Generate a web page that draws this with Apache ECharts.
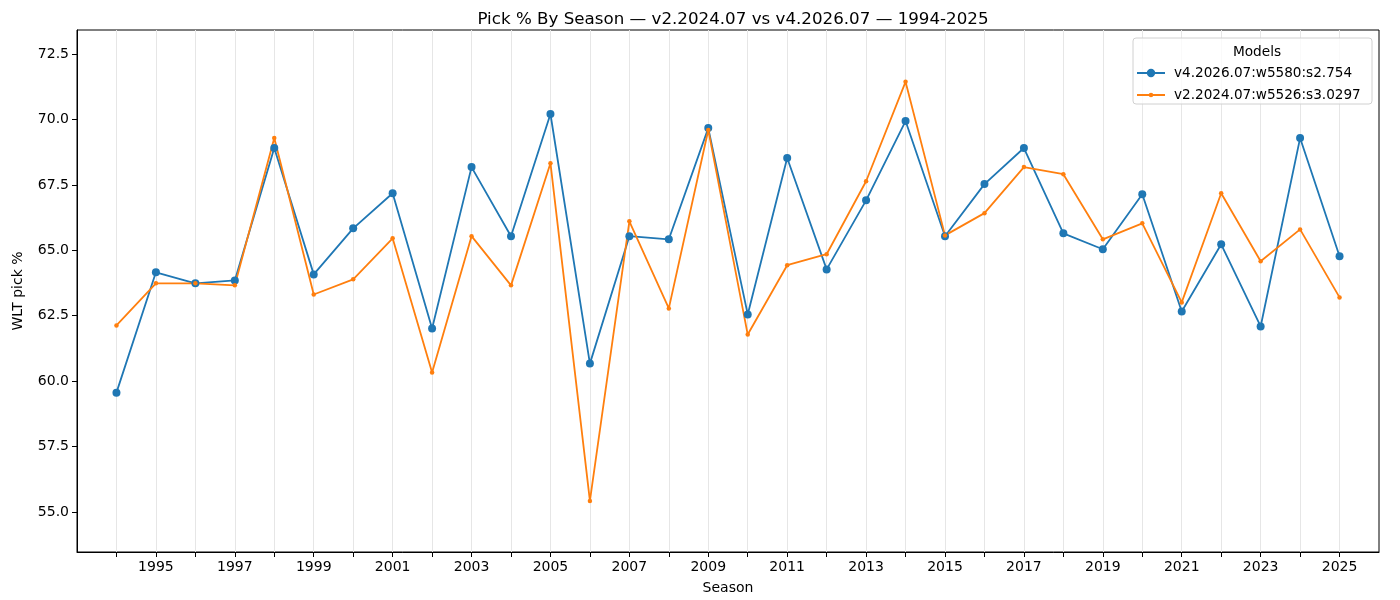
<!DOCTYPE html>
<html>
<head>
<meta charset="utf-8">
<script src="https://cdn.jsdelivr.net/npm/echarts@6/dist/echarts.min.js"></script>
<style>
html, body { margin: 0; padding: 0; background: #fff; }
#main { width: 1400px; height: 600px; }
</style>
</head>
<body>
<div id="main"></div>
<script>
var seasons = [1994, 1995, 1996, 1997, 1998, 1999, 2000, 2001, 2002, 2003, 2004,
    2005, 2006, 2007, 2008, 2009, 2010, 2011, 2012, 2013, 2014, 2015,
    2016, 2017, 2018, 2019, 2020, 2021, 2022, 2023, 2024, 2025];
var v4Values = [59.56, 64.16, 63.74, 63.85, 68.91, 64.08, 65.84, 67.18, 62.01, 68.18, 65.54,
    70.21, 60.67, 65.54, 65.42, 69.67, 62.55, 68.53, 64.27, 66.91, 69.94, 65.54,
    67.53, 68.91, 65.65, 65.04, 67.14, 62.66, 65.23, 62.09, 69.29, 64.77];
var v2Values = [62.13, 63.74, 63.74, 63.66, 69.29, 63.31, 63.89, 65.46, 60.33, 65.54, 63.66,
    68.33, 55.42, 66.11, 62.78, 69.60, 61.78, 64.43, 64.85, 67.64, 71.44, 65.57,
    66.42, 68.18, 67.91, 65.42, 66.03, 63.01, 67.18, 64.58, 65.80, 63.20];
var yTicks = [55, 57.5, 60, 62.5, 65, 67.5, 70, 72.5];
var xLabels = seasons.filter(function (s) { return s % 2 === 1; });

var v4Name = 'v4.2026.07:w5580:s2.754';
var v2Name = 'v2.2024.07:w5526:s3.0297';

function pairs(vals) {
    return seasons.map(function (s, i) { return [s, vals[i]]; });
}

// legend handle: line with a marker in the middle, inside a 28x10 box
function handle(r) {
    var y0 = 4.1, y1 = 5.9, c = 14;
    return 'path://M0,0 L0.01,0 L0.01,0.01 Z M27.99,9.99 L28,9.99 L28,10 Z ' +
        'M0,' + y0 + ' L28,' + y0 + ' L28,' + y1 + ' L0,' + y1 + ' Z ' +
        'M' + (c - r) + ',5 A' + r + ',' + r + ' 0 1 1 ' + (c + r) + ',5 A' + r + ',' + r + ' 0 1 1 ' + (c - r) + ',5 Z';
}

var font = 'DejaVu Sans';
var myChart = echarts.init(document.getElementById('main'));
var option = {
    animation: false,
    textStyle: { fontFamily: font },
    title: [{
        text: 'Pick % By Season \u2014 v2.2024.07 vs v4.2026.07 \u2014 1994-2025',
        left: 728,
        textAlign: 'center',
        top: 6,
        textStyle: { fontFamily: font, fontSize: 16.7, fontWeight: 'normal', color: '#000' }
    }, {
        text: 'Models',
        left: 1252,
        textAlign: 'center',
        top: 40,
        textStyle: { fontFamily: font, fontSize: 13.7, fontWeight: 'normal', color: '#000' }
    }],
    graphic: [{
        type: 'rect',
        shape: { x: 1133, y: 38, width: 239, height: 66, r: 3 },
        style: { fill: 'rgba(255,255,255,0.8)', stroke: '#d0d0d0', lineWidth: 1 },
        z: 5
    }],
    legend: {
        orient: 'vertical',
        left: 1132,
        top: 61,
        itemWidth: 28,
        itemHeight: 10,
        itemGap: 8,
        z: 10,
        textStyle: { fontFamily: font, fontSize: 13.6, color: '#000', padding: [0, 0, 0, 4] },
        data: [
            { name: v4Name, icon: handle(4.2) },
            { name: v2Name, icon: handle(2.3) }
        ]
    },
    grid: {
        left: 77, right: 21, top: 30, bottom: 48,
        show: true, borderColor: '#000', borderWidth: 1, backgroundColor: 'transparent'
    },
    xAxis: {
        type: 'value',
        min: 1993,
        max: 2026,
        interval: 1,
        name: 'Season',
        nameLocation: 'middle',
        nameGap: 29,
        nameTextStyle: { fontFamily: font, fontSize: 14, color: '#000' },
        axisLine: { lineStyle: { color: '#000' } },
        axisTick: { customValues: seasons, length: 5, lineStyle: { color: '#000' } },
        axisLabel: {
            customValues: xLabels,
            margin: 8,
            fontFamily: font, fontSize: 14, color: '#000',
            formatter: function (v) { return String(v); }
        },
        splitLine: { show: true, lineStyle: { color: '#e6e6e6', width: 1 } }
    },
    yAxis: {
        type: 'value',
        min: 53.47,
        max: 73.42,
        name: 'WLT pick %',
        nameLocation: 'middle',
        nameGap: 52,
        nameRotate: 90,
        nameTextStyle: { fontFamily: font, fontSize: 14, color: '#000' },
        axisLine: { show: true, lineStyle: { color: '#000' } },
        axisTick: { show: true, customValues: yTicks, length: 5, lineStyle: { color: '#000' } },
        axisLabel: {
            customValues: yTicks,
            margin: 8,
            fontFamily: font, fontSize: 14, color: '#000',
            formatter: function (v) { return v.toFixed(1); }
        },
        splitLine: { show: false }
    },
    series: [{
        name: v4Name,
        type: 'line',
        data: pairs(v4Values),
        symbol: 'circle',
        symbolSize: 8,
        color: '#1f77b4',
        lineStyle: { width: 1.8, color: '#1f77b4' },
        itemStyle: { color: '#1f77b4' }
    }, {
        name: v2Name,
        type: 'line',
        data: pairs(v2Values),
        symbol: 'circle',
        symbolSize: 4.5,
        color: '#ff7f0e',
        lineStyle: { width: 1.8, color: '#ff7f0e' },
        itemStyle: { color: '#ff7f0e' }
    }]
};
myChart.setOption(option);
</script>
</body>
</html>
